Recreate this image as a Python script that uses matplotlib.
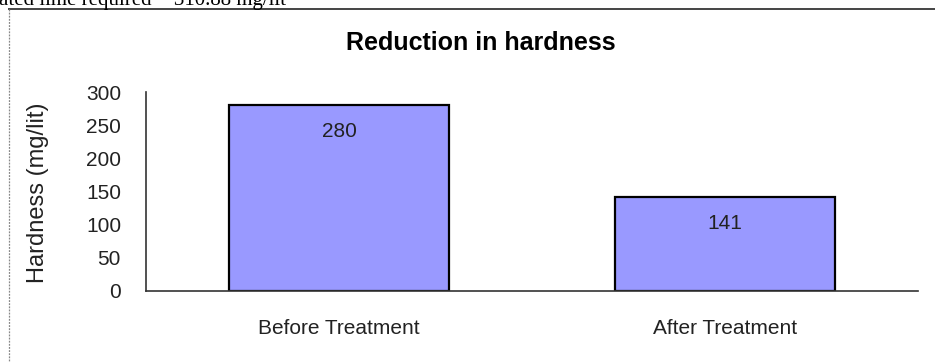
import matplotlib
matplotlib.use("Agg")
import matplotlib.pyplot as plt
from matplotlib.lines import Line2D

categories = ["Before Treatment", "After Treatment"]
hardness = [280, 141]
yticks = [0, 50, 100, 150, 200, 250, 300]
title = "Reduction in hardness"
ylabel = "Hardness (mg/lit)"
page_text = "ated lime required = 310.88 mg/lit"

W, H = 935, 362
fig = plt.figure(figsize=(W / 100, H / 100), dpi=100)
fig.patch.set_facecolor("white")
plt.rcParams["font.family"] = ["Liberation Sans", "DejaVu Sans"]

def fx(px):
    return px / W

def fy(py):
    return 1 - py / H

# cropped document text above the chart
fig.text(fx(-1), fy(5), page_text, family="Liberation Serif", fontsize=15,
         ha="left", va="baseline", color="black")

# chart area border
fig.add_artist(Line2D([fx(9), fx(935)], [fy(9), fy(9)], color="#444444", lw=1.4))
fig.add_artist(Line2D([fx(9), fx(9)], [fy(9), fy(362)], color="#888888", lw=0.9,
                      linestyle=(0, (1.5, 1))))

ax_l, ax_r, ax_t, ax_b = 146, 918, 92, 291
ax = fig.add_axes([fx(ax_l), fy(ax_b), fx(ax_r - ax_l), (ax_b - ax_t) / H])
x = list(range(len(categories)))
bars = ax.bar(x, hardness, width=0.572, color="#9999FF", edgecolor="black", linewidth=1.6)
ax.set_xlim(-0.5, len(categories) - 0.5)
ax.set_ylim(0, 300)
ax.set_yticks(yticks)
ax.set_yticklabels([str(t) for t in yticks])
ax.set_xticks(x)
ax.set_xticklabels(categories)
ax.tick_params(axis="both", length=0, labelsize=15, colors="#222222")
ax.tick_params(axis="y", pad=18)
ax.tick_params(axis="x", pad=20)
for s in ["top", "right"]:
    ax.spines[s].set_visible(False)
for s in ["left", "bottom"]:
    ax.spines[s].set_color("#333333")
    ax.spines[s].set_linewidth(1.2)
ax.set_facecolor("white")

for rect, v in zip(bars, hardness):
    ax.annotate(str(v), (rect.get_x() + rect.get_width() / 2, v),
                xytext=(0, -26), textcoords="offset pixels",
                ha="center", va="center", fontsize=15, color="#222222")

fig.text(fx(481), fy(43), title, ha="center", va="center", fontsize=18,
         fontweight="bold", color="black")
fig.text(fx(38), fy(193), ylabel, ha="center", va="center", rotation=90,
         fontsize=17, color="#222222")

fig.savefig("out.png", dpi=100, facecolor="white")
